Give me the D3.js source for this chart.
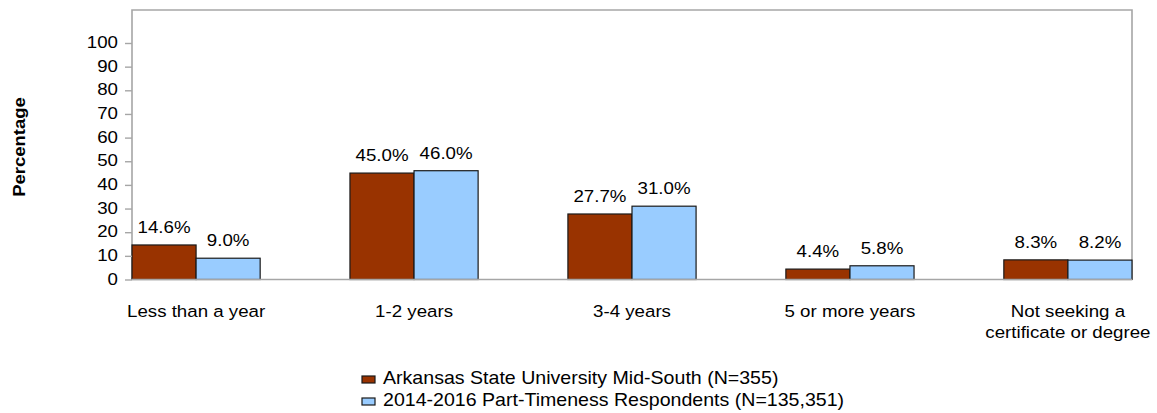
<!DOCTYPE html>
<html>
<head>
<meta charset="utf-8">
<script src="https://cdn.jsdelivr.net/npm/d3@7"></script>
<style>
  html, body { margin: 0; padding: 0; background: #fff; }
  svg { display: block; font-family: "Liberation Sans", Arial, sans-serif; }
</style>
</head>
<body>
<svg id="chart" width="1157" height="413"></svg>
<script>
const categories = ["Less than a year", "1-2 years", "3-4 years", "5 or more years", "Not seeking a certificate or degree"];
const categoryLines = [["Less than a year"], ["1-2 years"], ["3-4 years"], ["5 or more years"], ["Not seeking a", "certificate or degree"]];
const seriesNames = ["Arkansas State University Mid-South (N=355)", "2014-2016 Part-Timeness Respondents (N=135,351)"];
const seriesA = [14.6, 45.0, 27.7, 4.4, 8.3];
const seriesB = [9.0, 46.0, 31.0, 5.8, 8.2];
const yTicks = [0, 10, 20, 30, 40, 50, 60, 70, 80, 90, 100];
const colors = ["#993300", "#99ccff"];

const SX = 1.1;      // horizontal text stretch seen in the reference
const FS = 17;

const svg = d3.select("#chart");
const plotLeft = 132, plotRight = 1132, plotTop = 10, zeroY = 279.5, hundredY = 43;

const x = d3.scaleBand().domain(categories).range([plotLeft, plotRight]).paddingInner(0.412).paddingOuter(0);
const xi = d3.scaleBand().domain([0, 1]).range([0, x.bandwidth()]).padding(0);
const y = d3.scaleLinear().domain([0, 100]).range([zeroY, hundredY]);

function stretchedText(g, tx, ty, str, anchor, size, weight) {
  return g.append("text")
    .attr("transform", `translate(${tx},${ty}) scale(${SX},1)`)
    .attr("text-anchor", anchor || "middle")
    .attr("font-size", size || FS)
    .attr("font-weight", weight || "normal")
    .attr("fill", "#000")
    .text(str);
}

// frame
svg.append("path")
  .attr("d", `M${plotLeft},${zeroY} V${plotTop} H${plotRight} V${zeroY}`)
  .attr("fill", "none").attr("stroke", "#a6a6a6").attr("stroke-width", 1.6);

// bars
const series = [seriesA, seriesB];
const gBars = svg.append("g");
categories.forEach((c, i) => {
  series.forEach((s, k) => {
    gBars.append("rect")
      .attr("x", x(c) + xi(k))
      .attr("y", y(s[i]))
      .attr("width", xi.bandwidth())
      .attr("height", y(0) - y(s[i]))
      .attr("fill", colors[k])
      .attr("stroke", "#1a1a1a").attr("stroke-width", 1.2);
    stretchedText(svg, x(c) + xi(k) + xi.bandwidth() / 2, y(s[i]) - 12, s[i].toFixed(1) + "%", "middle");
  });
});

// baseline
svg.append("line").attr("x1", plotLeft).attr("x2", plotRight).attr("y1", zeroY).attr("y2", zeroY)
  .attr("stroke", "#a6a6a6").attr("stroke-width", 1.6);

// y axis
const yAxis = svg.append("g").attr("transform", `translate(${plotLeft},0)`)
  .call(d3.axisLeft(y).tickValues(yTicks).tickSize(7).tickPadding(7));
yAxis.select(".domain").remove();
yAxis.selectAll(".tick line").attr("stroke", "#a6a6a6").attr("stroke-width", 1.4);
yAxis.selectAll(".tick text").each(function() {
  const t = d3.select(this);
  const g = d3.select(this.parentNode);
  const str = t.text();
  t.remove();
  stretchedText(g, -14, 4.5, str, "end");
});

// y title
svg.append("text")
  .attr("transform", "translate(25,147) rotate(-90) scale(1.12,1)")
  .attr("text-anchor", "middle")
  .attr("font-size", 16.5).attr("font-weight", "bold")
  .text("Percentage");

// category labels
categories.forEach((c, i) => {
  categoryLines[i].forEach((ln, j) => {
    stretchedText(svg, x(c) + x.bandwidth() / 2, 317 + j * 20.5, ln, "middle");
  });
});

// legend
const legend = svg.append("g");
seriesNames.forEach((n, k) => {
  const ly = 384 + k * 22;
  legend.append("rect").attr("x", 362).attr("y", ly - 8).attr("width", 13).attr("height", 7)
    .attr("fill", colors[k]).attr("stroke", "#1a1a1a").attr("stroke-width", 1.2);
  stretchedText(legend, 383, ly, n, "start", 17.8);
});
</script>
</body>
</html>
